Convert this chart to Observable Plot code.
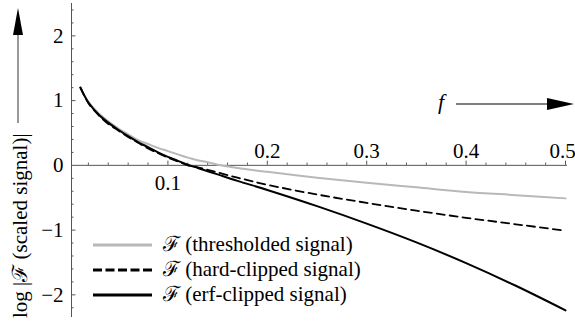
<!DOCTYPE html>
<html><head><meta charset="utf-8">
<script src="https://cdn.jsdelivr.net/npm/d3@7"></script>
<script src="https://cdn.jsdelivr.net/npm/@observablehq/plot@0.6"></script>
<style>body{margin:0;background:#fff} svg{display:block} svg text{font-family:"Liberation Serif","DejaVu Serif",serif !important}</style>
</head><body><div id="chart"></div>
<script>
// ---- data ----
const freq        = [0.012,0.02,0.03,0.04,0.05,0.06,0.07,0.08,0.09,0.10,0.11,0.12,0.13,0.14,0.15,0.17,0.20,0.25,0.30,0.35,0.40,0.45,0.50];
const thresholded = [1.20,0.98,0.81,0.68,0.57,0.48,0.39,0.33,0.27,0.22,0.17,0.12,0.08,0.05,0.01,-0.04,-0.10,-0.19,-0.27,-0.34,-0.41,-0.46,-0.51];
const hardClipped = [1.20,0.96,0.78,0.64,0.54,0.44,0.35,0.26,0.19,0.12,0.06,0.00,-0.03,-0.07,-0.11,-0.19,-0.30,-0.45,-0.58,-0.70,-0.81,-0.91,-1.01];
const erfClipped  = [1.20,0.97,0.79,0.66,0.55,0.45,0.36,0.28,0.20,0.13,0.07,0.01,-0.04,-0.09,-0.14,-0.24,-0.38,-0.63,-0.90,-1.19,-1.51,-1.86,-2.24];
const seriesNames = ["\u2131 (thresholded signal)", "\u2131 (hard-clipped signal)", "\u2131 (erf-clipped signal)"];
const xTickValues = [0.1,0.2,0.3,0.4,0.5];
const xTickLabels = ["0.1","0.2","0.3","0.4","0.5"];
const yTickValues = [-2,-1,0,1,2];
const yTickLabels = ["\u22122","\u22121","0","1","2"];
const xMinorTicks = [0.02,0.04,0.06,0.08,0.12,0.14,0.16,0.18,0.22,0.24,0.26,0.28,0.32,0.34,0.36,0.38,0.42,0.44,0.46,0.48];
const yMinorTicks = [-2.2,-1.8,-1.6,-1.4,-1.2,-0.8,-0.6,-0.4,-0.2,0.2,0.4,0.6,0.8,1.2,1.4,1.6,1.8,2.2,2.4];
const xLabel = "f";
const yLabel = "log |\u2131 (scaled signal)|";

const xDomain = [0.003, 0.502];
const yDomain = [-2.35, 2.5];
const font = "Liberation Serif, DejaVu Serif, serif";
const axisColor = "#555";
const fs = 21;

const rows = (ys, s) => freq.map((f, i) => ({f, v: ys[i], s}));
const data = [...rows(thresholded, 0), ...rows(hardClipped, 1), ...rows(erfClipped, 2)];
const xLab = xTickValues.map((v, i) => ({v, t: xTickLabels[i]}));

const plot = Plot.plot({
  width: 575, height: 323,
  marginLeft: 71, marginRight: 8, marginTop: 3, marginBottom: 6,
  x: {domain: xDomain, axis: null},
  y: {domain: yDomain, axis: null},
  style: {fontFamily: font, background: "#fff"},
  marks: [
    Plot.ruleY([0], {stroke: axisColor, strokeWidth: 1}),
    Plot.ruleX([xDomain[0]], {stroke: axisColor, strokeWidth: 1}),
    Plot.ruleX(xTickValues, {x: d => d, y1: 0, y2: 0.065, stroke: axisColor}),
    Plot.ruleX(xMinorTicks, {x: d => d, y1: 0, y2: 0.035, stroke: axisColor}),
    Plot.ruleY(yTickValues.filter(d => d !== 0), {y: d => d, x1: xDomain[0], x2: xDomain[0] + 0.0045, stroke: axisColor}),
    Plot.ruleY(yMinorTicks, {y: d => d, x1: xDomain[0], x2: xDomain[0] + 0.0025, stroke: axisColor}),
    Plot.text(xLab.slice(1, 4), {x: "v", y: 0, text: "t", lineAnchor: "bottom", dy: -7, fontSize: fs, fontFamily: font, fill: "#000"}),
    Plot.text(xLab.slice(4), {x: "v", y: 0, text: "t", lineAnchor: "bottom", dy: -7, dx: -3, fontSize: fs, fontFamily: font, fill: "#000"}),
    Plot.text(xLab.slice(0, 1), {x: "v", y: 0, text: "t", lineAnchor: "top", dy: 10, fontSize: fs, fontFamily: font, fill: "#000"}),
    Plot.text(yTickValues, {x: xDomain[0], y: d => d, text: (d, i) => yTickLabels[i], textAnchor: "end", dx: -8, fontSize: fs, fontFamily: font, fill: "#000"}),
    Plot.line(data.filter(d => d.s === 0), {x: "f", y: "v", stroke: "#b8b8b8", strokeWidth: 2, curve: "catmull-rom"}),
    Plot.line(data.filter(d => d.s === 1), {x: "f", y: "v", stroke: "#000", strokeWidth: 1.8, strokeDasharray: "8,5", curve: "catmull-rom"}),
    Plot.line(data.filter(d => d.s === 2), {x: "f", y: "v", stroke: "#000", strokeWidth: 2, curve: "catmull-rom"})
  ]
});
document.getElementById("chart").appendChild(plot);

// ---- decorations: axis labels with arrows, legend ----
const svg = d3.select(plot);
const g = svg.append("g").attr("text-anchor", "start").style("font-family", font);

// y label + arrow
g.append("text").attr("transform", "translate(27,318) rotate(-90)").attr("text-anchor", "start")
  .attr("font-size", fs).attr("fill", "#000").text(yLabel);
g.append("line").attr("x1", 18).attr("x2", 18).attr("y1", 123).attr("y2", 34)
  .attr("stroke", "#555").attr("stroke-width", 1.2);
g.append("polygon").attr("points", "13,35 23,35 18,8").attr("fill", "#000");

// x label + arrow
g.append("text").attr("x", 438).attr("y", 109).attr("font-size", 22).attr("text-anchor", "start")
  .attr("font-style", "italic").attr("fill", "#000").text(xLabel);
g.append("line").attr("x1", 456).attr("x2", 549).attr("y1", 104).attr("y2", 104)
  .attr("stroke", "#000").attr("stroke-width", 1.2);
g.append("polygon").attr("points", "547,98 547,110 574,104").attr("fill", "#000");

// legend
const legendStyles = [
  {stroke: "#b8b8b8", dash: null},
  {stroke: "#000", dash: "9,3.5"},
  {stroke: "#000", dash: null}
];
seriesNames.forEach((name, i) => {
  const y = 245 + i * 25;
  const ln = g.append("line").attr("x1", 93).attr("x2", 152).attr("y1", y).attr("y2", y)
    .attr("stroke", legendStyles[i].stroke).attr("stroke-width", 3);
  if (legendStyles[i].dash) ln.attr("stroke-dasharray", legendStyles[i].dash);
  g.append("text").attr("x", 163).attr("y", y + 6).attr("font-size", fs).attr("text-anchor", "start")
    .attr("fill", "#000").text(name);
});
</script>
</body></html>
